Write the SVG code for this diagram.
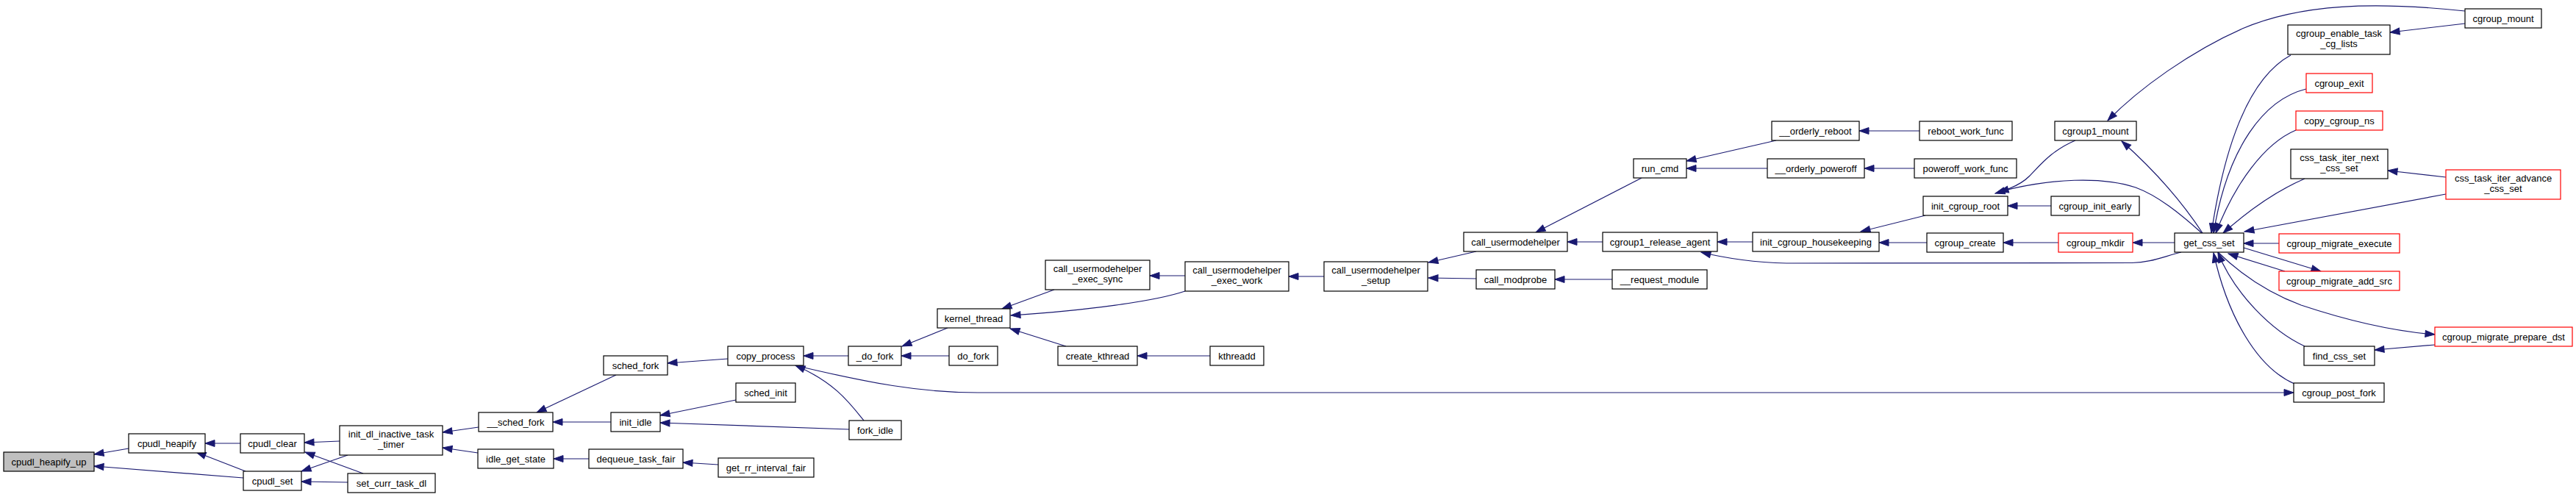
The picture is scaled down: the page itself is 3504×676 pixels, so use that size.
<svg xmlns="http://www.w3.org/2000/svg" width="3504" height="676" viewBox="0 0 3504 676">
<style>
.n rect{fill:#fff;stroke:#000;stroke-width:1.2}
.n.red rect{stroke:#ff0000}
.n.hl rect{fill:#bfbfbf}
.n text{font-family:"Liberation Sans",Arial,sans-serif;font-size:13px;text-anchor:middle;fill:#000}
.e path{fill:none;stroke:#191970;stroke-width:1.2;marker-end:url(#ah)}
</style>
<defs>
<marker id="ah" markerUnits="userSpaceOnUse" markerWidth="14" markerHeight="10" refX="13" refY="5" orient="auto" overflow="visible">
<path d="M0,0.5 L13,5 L0,9.5 Z" fill="#191970" stroke="#191970" stroke-width="1"/>
</marker>
</defs>
<rect width="3504" height="676" fill="#fff"/>
<g id="edges" class="e">
<path d="M175,610 L128,618"/>
<path d="M331,650 L128,634"/>
<path d="M327,603 L279,603"/>
<path d="M334,641 L267,615"/>
<path d="M462,600 L414,602"/>
<path d="M494,644 L415,615"/>
<path d="M473,619 L410,641"/>
<path d="M473,656 L410,655"/>
<path d="M651,581 L602,588"/>
<path d="M650,616 L602,609"/>
<path d="M838,510 L730,561"/>
<path d="M831,574 L752,574"/>
<path d="M801,624 L753,624"/>
<path d="M990,488 L908,494"/>
<path d="M1001,544 L898,565"/>
<path d="M1155,584 L898,575"/>
<path d="M977,632 L929,629"/>
<path d="M1154,484 L1093,484"/>
<path d="M1175,572 C1155,547 1135,520 1082,497"/>
<path d="M1094,500 C1180,520 1250,534 1330,534 L3120,534"/>
<path d="M1289,446 L1227,471"/>
<path d="M1291,484 L1226,484"/>
<path d="M1434,394 L1363,420"/>
<path d="M1612,396 C1570,410 1480,422 1375,429"/>
<path d="M1450,471 L1374,447"/>
<path d="M1612,375 L1564,375"/>
<path d="M1646,484 L1547,484"/>
<path d="M1801,376 L1753,376"/>
<path d="M2008,342 L1943,357"/>
<path d="M2008,379 L1943,378"/>
<path d="M2233,242 L2089,316"/>
<path d="M2180,329 L2132,329"/>
<path d="M2193,380 L2115,380"/>
<path d="M2416,191 L2294,219"/>
<path d="M2404,229 L2294,229"/>
<path d="M2384,329 L2336,329"/>
<path d="M2967,343 C2940,350 2925,357 2900,357.5 L2430,358 C2390,357 2350,352 2314,343"/>
<path d="M2611,178 L2529,178"/>
<path d="M2604,229 L2536,229"/>
<path d="M2619,293 L2531,315"/>
<path d="M2621,330 L2556,330"/>
<path d="M2823,191 C2790,205 2775,225 2760,240 C2750,250 2735,257 2714,263"/>
<path d="M2995,317 C2965,290 2935,266 2905,255 C2860,240 2790,242 2719,261"/>
<path d="M2790,280 L2731,280"/>
<path d="M2800,330 L2725,330"/>
<path d="M2958,330 L2901,330"/>
<path d="M2996,317 C2975,285 2940,240 2886,192"/>
<path d="M3353,15 C3230,2 3130,5 3050,39 C2980,70 2910,120 2867,164"/>
<path d="M3353,32 L3251,44"/>
<path d="M3116,75 C3070,100 3030,170 3008,317"/>
<path d="M3137,121 C3080,135 3030,200 3011,317"/>
<path d="M3123,177 C3080,195 3040,250 3014,317"/>
<path d="M3135,243 C3100,258 3060,285 3024,317"/>
<path d="M3327,241 L3248,232"/>
<path d="M3327,264 L3053,315"/>
<path d="M3100,331 L3052,331"/>
<path d="M3052,337 L3157,369"/>
<path d="M3108,369 L3031,345"/>
<path d="M3017,343 C3050,375 3090,400 3130,415 C3190,435 3250,450 3312,455"/>
<path d="M3135,471 C3090,450 3040,400 3017,344"/>
<path d="M3312,469 L3230,476"/>
<path d="M3121,522 C3070,500 3030,430 3011,344"/>
</g>
<g id="n1" class="n hl"><rect x="5" y="615" width="123" height="26"/><text x="66.5" y="632.5">cpudl_heapify_up</text></g>
<g id="n2" class="n"><rect x="175" y="590" width="104" height="26"/><text x="227" y="607.5">cpudl_heapify</text></g>
<g id="n3" class="n"><rect x="327" y="590" width="87" height="26"/><text x="370.5" y="607.5">cpudl_clear</text></g>
<g id="n4" class="n"><rect x="331" y="641" width="79" height="26"/><text x="370.5" y="658.5">cpudl_set</text></g>
<g id="n5" class="n"><rect x="462" y="579" width="140" height="40"/><text x="532" y="595">init_dl_inactive_task</text><text x="532" y="609">_timer</text></g>
<g id="n6" class="n"><rect x="473" y="644" width="119" height="26"/><text x="532.5" y="661.5">set_curr_task_dl</text></g>
<g id="n7" class="n"><rect x="651" y="561" width="101" height="26"/><text x="701.5" y="578.5">__sched_fork</text></g>
<g id="n8" class="n"><rect x="650" y="611" width="103" height="26"/><text x="701.5" y="628.5">idle_get_state</text></g>
<g id="n9" class="n"><rect x="821" y="484" width="87" height="26"/><text x="864.5" y="501.5">sched_fork</text></g>
<g id="n10" class="n"><rect x="831" y="561" width="67" height="26"/><text x="864.5" y="578.5">init_idle</text></g>
<g id="n11" class="n"><rect x="801" y="611" width="128" height="26"/><text x="865" y="628.5">dequeue_task_fair</text></g>
<g id="n12" class="n"><rect x="990" y="471" width="103" height="26"/><text x="1041.5" y="488.5">copy_process</text></g>
<g id="n13" class="n"><rect x="1001" y="521" width="81" height="26"/><text x="1041.5" y="538.5">sched_init</text></g>
<g id="n14" class="n"><rect x="977" y="623" width="130" height="26"/><text x="1042" y="640.5">get_rr_interval_fair</text></g>
<g id="n15" class="n"><rect x="1154" y="471" width="72" height="26"/><text x="1190" y="488.5">_do_fork</text></g>
<g id="n16" class="n"><rect x="1155" y="572" width="71" height="26"/><text x="1190.5" y="589.5">fork_idle</text></g>
<g id="n17" class="n"><rect x="1275" y="420" width="99" height="26"/><text x="1324.5" y="437.5">kernel_thread</text></g>
<g id="n18" class="n"><rect x="1291" y="471" width="66" height="26"/><text x="1324" y="488.5">do_fork</text></g>
<g id="n19" class="n"><rect x="1422" y="354" width="142" height="40"/><text x="1493" y="370">call_usermodehelper</text><text x="1493" y="384">_exec_sync</text></g>
<g id="n20" class="n"><rect x="1439" y="471" width="108" height="26"/><text x="1493" y="488.5">create_kthread</text></g>
<g id="n21" class="n"><rect x="1612" y="356" width="141" height="40"/><text x="1682.5" y="372">call_usermodehelper</text><text x="1682.5" y="386">_exec_work</text></g>
<g id="n22" class="n"><rect x="1646" y="471" width="73" height="26"/><text x="1682.5" y="488.5">kthreadd</text></g>
<g id="n23" class="n"><rect x="1801" y="356" width="141" height="40"/><text x="1871.5" y="372">call_usermodehelper</text><text x="1871.5" y="386">_setup</text></g>
<g id="n24" class="n"><rect x="1991" y="316" width="141" height="26"/><text x="2061.5" y="333.5">call_usermodehelper</text></g>
<g id="n25" class="n"><rect x="2008" y="367" width="107" height="26"/><text x="2061.5" y="384.5">call_modprobe</text></g>
<g id="n26" class="n"><rect x="2222" y="216" width="72" height="26"/><text x="2258" y="233.5">run_cmd</text></g>
<g id="n27" class="n"><rect x="2180" y="316" width="156" height="26"/><text x="2258" y="333.5">cgroup1_release_agent</text></g>
<g id="n28" class="n"><rect x="2193" y="367" width="129" height="26"/><text x="2257.5" y="384.5">__request_module</text></g>
<g id="n29" class="n"><rect x="2410" y="165" width="119" height="26"/><text x="2469.5" y="182.5">__orderly_reboot</text></g>
<g id="n30" class="n"><rect x="2404" y="216" width="132" height="26"/><text x="2470" y="233.5">__orderly_poweroff</text></g>
<g id="n31" class="n"><rect x="2384" y="316" width="172" height="26"/><text x="2470" y="333.5">init_cgroup_housekeeping</text></g>
<g id="n32" class="n"><rect x="2611" y="165" width="126" height="26"/><text x="2674" y="182.5">reboot_work_func</text></g>
<g id="n33" class="n"><rect x="2604" y="216" width="139" height="26"/><text x="2673.5" y="233.5">poweroff_work_func</text></g>
<g id="n34" class="n"><rect x="2616" y="267" width="115" height="26"/><text x="2673.5" y="284.5">init_cgroup_root</text></g>
<g id="n35" class="n"><rect x="2621" y="317" width="104" height="26"/><text x="2673" y="334.5">cgroup_create</text></g>
<g id="n36" class="n"><rect x="2795" y="165" width="111" height="26"/><text x="2850.5" y="182.5">cgroup1_mount</text></g>
<g id="n37" class="n"><rect x="2790" y="267" width="120" height="26"/><text x="2850" y="284.5">cgroup_init_early</text></g>
<g id="n38" class="n red"><rect x="2800" y="317" width="101" height="26"/><text x="2850.5" y="334.5">cgroup_mkdir</text></g>
<g id="n39" class="n"><rect x="2958" y="317" width="94" height="26"/><text x="3005" y="334.5">get_css_set</text></g>
<g id="n40" class="n"><rect x="3353" y="12" width="104" height="26"/><text x="3405" y="29.5">cgroup_mount</text></g>
<g id="n41" class="n"><rect x="3112" y="34" width="139" height="40"/><text x="3181.5" y="50">cgroup_enable_task</text><text x="3181.5" y="64">_cg_lists</text></g>
<g id="n42" class="n red"><rect x="3137" y="100" width="90" height="26"/><text x="3182" y="117.5">cgroup_exit</text></g>
<g id="n43" class="n red"><rect x="3123" y="151" width="118" height="26"/><text x="3182" y="168.5">copy_cgroup_ns</text></g>
<g id="n44" class="n"><rect x="3116" y="203" width="132" height="40"/><text x="3182" y="219">css_task_iter_next</text><text x="3182" y="233">_css_set</text></g>
<g id="n45" class="n red"><rect x="3327" y="231" width="156" height="40"/><text x="3405" y="247">css_task_iter_advance</text><text x="3405" y="261">_css_set</text></g>
<g id="n46" class="n red"><rect x="3100" y="318" width="164" height="26"/><text x="3182" y="335.5">cgroup_migrate_execute</text></g>
<g id="n47" class="n red"><rect x="3100" y="369" width="164" height="26"/><text x="3182" y="386.5">cgroup_migrate_add_src</text></g>
<g id="n48" class="n red"><rect x="3312" y="445" width="187" height="26"/><text x="3405.5" y="462.5">cgroup_migrate_prepare_dst</text></g>
<g id="n49" class="n"><rect x="3134" y="471" width="96" height="26"/><text x="3182" y="488.5">find_css_set</text></g>
<g id="n50" class="n"><rect x="3120" y="521" width="123" height="26"/><text x="3181.5" y="538.5">cgroup_post_fork</text></g>
</svg>
